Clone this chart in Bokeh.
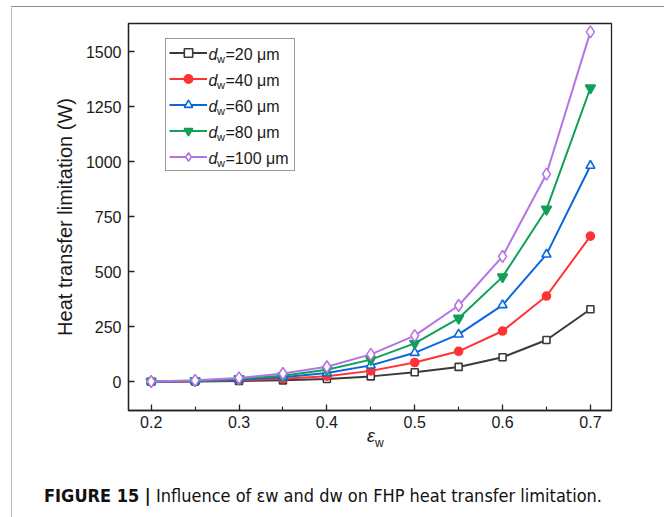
from bokeh.plotting import figure
from bokeh.layouts import column
from bokeh.models import (Range1d, FixedTicker, Legend, LegendItem, Label, NumeralTickFormatter, Div)
from bokeh.embed import file_html
from bokeh.resources import INLINE

# ---- data ----
eps_w = [0.2, 0.25, 0.3, 0.35, 0.4, 0.45, 0.5, 0.55, 0.6, 0.65, 0.7]
q_dw20 = [1, 2, 4, 7, 13, 25, 44, 68, 112, 190, 330]
q_dw40 = [1, 3, 7, 14, 26, 50, 88, 139, 231, 390, 662]
q_dw60 = [1, 4, 10, 21, 40, 75, 132, 216, 349, 579, 982]
q_dw80 = [2, 5, 14, 28, 55, 101, 175, 289, 477, 784, 1335]
q_dw100 = [2, 7, 18, 38, 69, 125, 210, 347, 570, 944, 1590]
dw_values = ["20", "40", "60", "80", "100"]
x_ticks = [0.2, 0.3, 0.4, 0.5, 0.6, 0.7]
x_minor = [0.25, 0.35, 0.45, 0.55, 0.65]
y_ticks = [0, 250, 500, 750, 1000, 1250, 1500]

FONT = "Liberation Sans"
TXT = "#1a1a1a"

p = figure(width=648, height=428, output_backend="svg", toolbar_location=None,
           x_range=Range1d(0.1742, 0.724), y_range=Range1d(-130, 1628),
           min_border_left=116, min_border_right=49, min_border_top=16, min_border_bottom=25)
p.xgrid.visible = False
p.ygrid.visible = False
p.outline_line_color = "#222222"
p.outline_line_width = 1.3
p.background_fill_color = "white"
p.border_fill_color = "white"

p.xaxis.ticker = FixedTicker(ticks=x_ticks, minor_ticks=x_minor)
p.yaxis.ticker = FixedTicker(ticks=y_ticks, minor_ticks=[])
p.xaxis.formatter = NumeralTickFormatter(format="0.0")
for ax in (p.xaxis, p.yaxis):
    ax.axis_line_color = "#222222"
    ax.axis_line_width = 1.3
    ax.major_tick_line_color = "#222222"
    ax.major_tick_line_width = 1.3
    ax.minor_tick_line_color = "#222222"
    ax.minor_tick_line_width = 1.1
    ax.major_tick_in = 6
    ax.major_tick_out = 0
    ax.minor_tick_in = 4
    ax.minor_tick_out = 0
    ax.major_label_text_font = FONT
    ax.major_label_text_font_size = "16px"
    ax.major_label_text_color = TXT
p.xaxis.major_label_standoff = 5
p.yaxis.major_label_standoff = 7
p.yaxis.axis_label = "Heat transfer limitation (W)"
p.yaxis.axis_label_text_font = FONT
p.yaxis.axis_label_text_font_style = "normal"
p.yaxis.axis_label_text_font_size = "20px"
p.yaxis.axis_label_text_color = TXT
p.yaxis.axis_label_standoff = 7

series = [
    (q_dw20, "#3a3a3a", "square", 7, "white"),
    (q_dw40, "#ff3333", "circle", 8, "#ff3333"),
    (q_dw60, "#0a66dd", "triangle", 9, "white"),
    (q_dw80, "#10a058", "inverted_triangle", 10, "#10a058"),
    (q_dw100, "#b574e4", "diamond", 12, "white"),
]
items = []
for vals, col, mk, sz, fill in series:
    r1 = p.line(eps_w, vals, line_color=col, line_width=2)
    r2 = p.scatter(eps_w, vals, marker=mk, size=sz, line_color=col, fill_color=fill, line_width=1.6)
    items.append(LegendItem(label=" ", renderers=[r1, r2]))

legend = Legend(items=items, location=(37, 239), glyph_width=38, glyph_height=21,
                label_height=21, label_width=81, label_standoff=3, spacing=5, padding=3,
                margin=0, border_line_color="#333333", border_line_width=1,
                background_fill_alpha=0, label_text_font_size="16px")
p.add_layout(legend, "center")

# legend texts (d italic, w subscript)
for i, dw in enumerate(dw_values):
    cy = 356.5 - 26 * i
    p.add_layout(Label(x=80, y=cy, x_units="screen", y_units="screen", text="d", level="overlay",
                       text_font=FONT, text_font_style="italic", text_font_size="16px",
                       text_baseline="middle", text_color=TXT))
    p.add_layout(Label(x=88.5, y=cy - 5, x_units="screen", y_units="screen", text="w", level="overlay",
                       text_font=FONT, text_font_size="11px",
                       text_baseline="middle", text_color=TXT))
    p.add_layout(Label(x=97, y=cy, x_units="screen", y_units="screen", text="=" + dw + " \u03bcm",
                       level="overlay", text_font=FONT, text_font_size="16px",
                       text_baseline="middle", text_color=TXT))

xlabel = Div(width=648, height=20,
             text='<div style="position:relative; top:-14px; left:350px; font-family:\'Liberation Sans\'; '
                  'color:#1a1a1a; white-space:nowrap; line-height:20px;">'
                  '<span style="font-style:italic; font-size:18px;">\u03b5</span>'
                  '<span style="font-size:12px; position:relative; top:5px;">w</span></div>')

caption = Div(width=648, height=54,
              text='<div style="position:relative; top:15px; left:27px; white-space:nowrap; '
                   'font-family:\'Liberation Sans Narrow\', \'DejaVu Sans Condensed\', sans-serif; '
                   'font-stretch:condensed; font-size:18px; line-height:22px; color:#111;">'
                   '<b>FIGURE 15 |</b> Influence of \u03b5w and dw on FHP heat transfer limitation.</div>')

root = column(p, xlabel, caption, spacing=0, margin=(6, 0, 0, 11),
              styles={"border-left": "1px solid #bdbdbd", "border-top": "1px solid #8c8c8c",
                      "border-right": "1px solid #8c8c8c"})

open("out.html", "w").write(file_html(root, INLINE))
